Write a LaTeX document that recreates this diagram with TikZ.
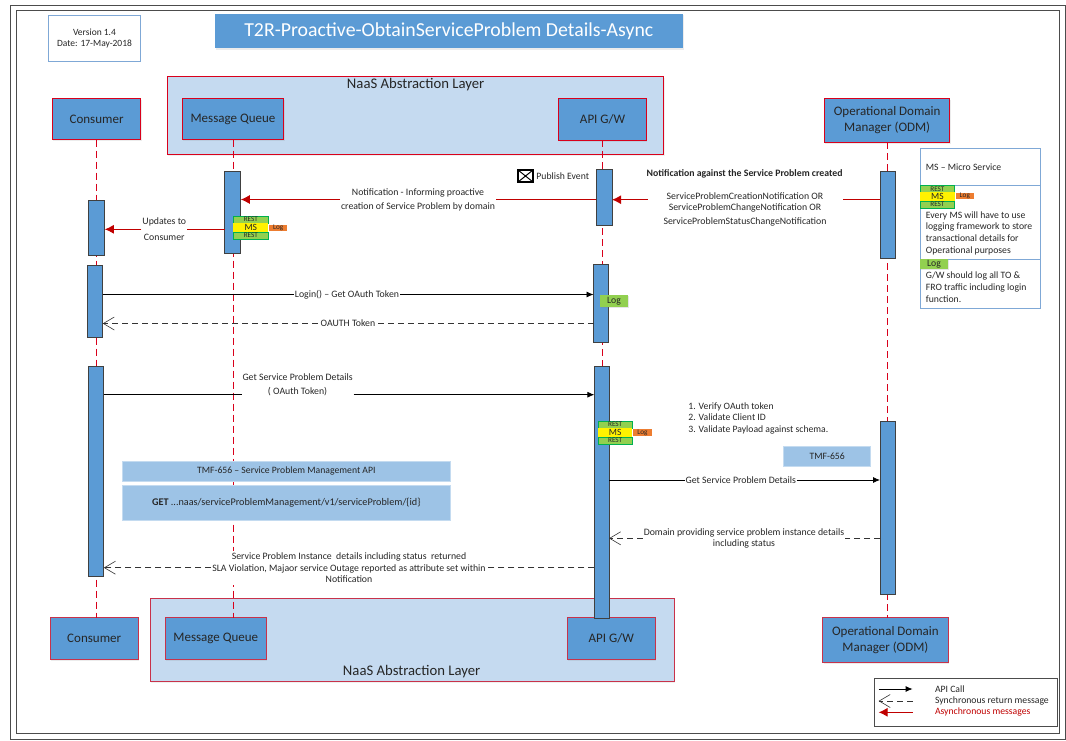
\documentclass[tikz,border=0pt]{standalone}
\usepackage{fontspec}
\setmainfont{Carlito}
\usepackage{tikz}
\usetikzlibrary{arrows.meta,shadows}
\definecolor{boxblue}{HTML}{5B9BD5}
\definecolor{layerblue}{HTML}{C5DAF0}
\definecolor{tmfblue}{HTML}{9DC3E6}
\definecolor{edgeblue}{HTML}{7FA8D6}
\definecolor{linered}{HTML}{D9001B}
\definecolor{softred}{HTML}{C8324A}
\definecolor{tipred}{HTML}{C00000}
\definecolor{restgreen}{HTML}{92D050}
\definecolor{edgegreen}{HTML}{00B050}
\definecolor{logorange}{HTML}{ED7D31}
\definecolor{textgrey}{HTML}{262626}
\tikzset{
    every node/.style = {
        inner sep=0pt,
        outer sep=0pt,
        text=textgrey
    },
    frameline/.style = {
        draw=black!70,
        line width=.9pt,
        minimum width=#1
    },
    layer/.style = {
        draw=linered,
        fill=layerblue,
        line width=.9pt,
        drop shadow={opacity=.12,shadow xshift=1pt,shadow yshift=-1.5pt}
    },
    layerlabel/.style = {
        font=\fontsize{14.7}{17}\selectfont
    },
    party/.style = {
        draw=linered,
        fill=boxblue,
        line width=1pt,
        align=center,
        text=black!85,
        font=\fontsize{13}{16}\selectfont,
        drop shadow={opacity=.15,shadow xshift=1pt,shadow yshift=-1.5pt}
    },
    partylow/.style = {
        party,
        draw=softred
    },
    bar/.style = {
        draw=black!75,
        fill=boxblue,
        line width=1pt
    },
    tmf/.style = {
        draw=tmfblue!60,
        fill=tmfblue,
        line width=.5pt,
        font=\fontsize{9.7}{11}\selectfont
    },
    rest/.style = {
        draw=edgegreen,
        fill=restgreen,
        line width=.7pt,
        minimum height=7pt,
        font=\fontsize{7.2}{7}\selectfont
    },
    msbox/.style = {
        fill=yellow,
        font=\fontsize{9.5}{9}\selectfont
    },
    logbox/.style = {
        fill=logorange,
        font=\fontsize{7.2}{7}\selectfont
    },
    greenlog/.style = {
        fill=restgreen,
        font=\fontsize{9.7}{10}\selectfont,
        drop shadow={opacity=.2,shadow xshift=1pt,shadow yshift=-1pt}
    },
    notebox/.style = {
        draw=edgeblue,
        fill=white,
        line width=.9pt,
        minimum width=120.8pt
    },
    msg/.style = {
        fill=white,
        align=center,
        inner xsep=1pt,
        font=\fontsize{9.8}{11.5}\selectfont
    },
    plain/.style = {
        align=left,
        font=\fontsize{9.7}{11.7}\selectfont
    },
    life/.style = {
        draw=linered,
        line width=.8pt,
        dash pattern=on 7pt off 4pt
    },
    async/.style = {
        draw=tipred,
        line width=1pt,
        -{Latex[length=9pt,width=9pt]}
    },
    call/.style = {
        draw=black,
        line width=.8pt,
        -{Latex[length=7pt,width=6pt]}
    },
    back/.style = {
        draw=black!80,
        line width=.8pt,
        dash pattern=on 6pt off 4pt,
        -{Straight Barb[length=11pt,width=13pt,line width=.6pt]}
    }
}

\begin{document}
\begin{tikzpicture}[x=1pt,y=-1pt]
    \useasboundingbox (0,0) rectangle (1066,740);

    \node[frameline=1055pt, minimum height=733.5pt] (outerframe) at (537.5,372.5) {};
    \node[frameline=1043.5pt, minimum height=723pt] (innerframe) at (537.7,371.5) {};

    \node[fill=boxblue, text=white, minimum width=468.4pt, minimum height=34.5pt, font=\fontsize{19.8}{24}\selectfont,
        drop shadow={opacity=.15,shadow xshift=1pt,shadow yshift=-1.5pt}] (title) at (448.8,30.75) {T2R-Proactive-ObtainServiceProblem Details-Async};
    \node[draw=edgeblue, fill=white, line width=1pt, minimum width=92.5pt, minimum height=46pt, align=center, font=\fontsize{9.5}{11}\selectfont] (version) at (94.5,38) {Version 1.4\\Date: 17-May-2018};

    \node[layer, minimum width=496.3pt, minimum height=78pt] (layertop) at (415.5,115) {};
    \node[layerlabel] (layertoplabel) at (415.6,85) {NaaS Abstraction Layer};
    \node[layer, draw=softred, minimum width=524pt, minimum height=83pt] (layerlow) at (412,640.2) {};
    \node[layerlabel] (layerlowlabel) at (411.6,671.5) {NaaS Abstraction Layer};

    \node[party, minimum width=88.4pt, minimum height=41pt] (consumertop) at (96.6,119) {Consumer};
    \node[party, minimum width=101.4pt, minimum height=41pt] (queuetop) at (233,119) {Message Queue};
    \node[party, minimum width=87.4pt, minimum height=42pt] (apitop) at (602.6,119) {API G/W};
    \node[party, minimum width=125.5pt, minimum height=44pt] (odmtop) at (887.2,120) {Operational Domain\\Manager (ODM)};

    \node[partylow, minimum width=87.7pt, minimum height=41.6pt] (consumerlow) at (94.2,638.5) {Consumer};
    \node[partylow, minimum width=101pt, minimum height=41.6pt] (queuelow) at (215.8,638.5) {Message Queue};
    \node[partylow, minimum width=87.6pt, minimum height=41.6pt] (apilow) at (611.2,638.5) {API G/W};
    \node[partylow, minimum width=125.8pt, minimum height=44.6pt] (odmlow) at (885.4,640) {Operational Domain\\Manager (ODM)};

    \path[life] (consumertop.south) -- (consumertop.south |- consumerlow.north);
    \path[life] (queuetop.south) -- (queuetop.south |- queuelow.north);
    \path[life] (apitop.south) -- (apitop.south |- apilow.north);
    \path[life] (odmtop.south) -- (odmtop.south |- odmlow.north);

    \node[bar, minimum width=16pt, minimum height=55pt] (conbarA) at (96.8,228) {};
    \node[bar, minimum width=15.7pt, minimum height=72pt] (conbarB) at (94.9,301.5) {};
    \node[bar, minimum width=15.7pt, minimum height=210.7pt] (conbarC) at (96,471.4) {};
    \node[bar, minimum width=16pt, minimum height=82pt] (queuebar) at (232.8,212) {};
    \node[bar, minimum width=15.7pt, minimum height=55.8pt] (apibarA) at (604.2,197.6) {};
    \node[bar, minimum width=14.7pt, minimum height=77.6pt] (apibarB) at (600.9,303.5) {};
    \node[bar, minimum width=14.7pt, minimum height=252pt] (apibarC) at (601.7,492) {};
    \node[bar, minimum width=15pt, minimum height=87pt] (odmbarA) at (887.5,214.5) {};
    \node[bar, minimum width=15pt, minimum height=172.3pt] (odmbarB) at (887.5,507.9) {};

    \node[tmf, minimum width=328.7pt, minimum height=20.3pt] (tmftitle) at (286.3,471.2) {TMF-656 -- Service Problem Management API};
    \node[tmf, minimum width=328.7pt, minimum height=34.7pt, font=\fontsize{10.2}{11}\selectfont] (tmfget) at (286.3,502.6) {\textbf{GET} ...naas/serviceProblemManagement/v1/serviceProblem/\{id\}};
    \node[tmf, minimum width=87pt, minimum height=20.3pt] (tmfshort) at (827.2,456.2) {TMF-656};

    \node[rest, minimum width=35.1pt] (queuerestA) at (250.85,219.35) {REST};
    \node[msbox, minimum width=35.1pt, minimum height=9pt] (queuems) at (250.85,227.5) {MS};
    \node[rest, minimum width=35.1pt] (queuerestB) at (250.85,235.5) {REST};
    \node[logbox, minimum width=18.4pt, minimum height=6.6pt] (queuelog) at (278.2,228) {Log};

    \node[rest, minimum width=33.7pt] (apirestA) at (615.15,424.4) {REST};
    \node[msbox, minimum width=33.7pt, minimum height=9pt] (apims) at (615.15,432.75) {MS};
    \node[rest, minimum width=33.7pt] (apirestB) at (615.15,440.5) {REST};
    \node[logbox, minimum width=19pt, minimum height=7pt] (apilog) at (642.5,432.5) {Log};

    \node[greenlog, minimum width=28pt, minimum height=11.7pt] (gwlog) at (614,301.15) {Log};

    \node[notebox, minimum height=36.8pt] (msinfo) at (980.4,167.1) {};
    \node[notebox, minimum height=73.5pt] (msnote) at (980.4,222.25) {};
    \node[notebox, minimum height=49pt] (lognote) at (980.4,283.5) {};
    \node[plain, anchor=west] (msinfotext) at (925.9,166.7) {MS -- Micro Service};
    \node[rest, minimum width=34.8pt] (noterestA) at (937.4,189) {REST};
    \node[msbox, minimum width=34.8pt, minimum height=8.5pt] (notems) at (937.4,196.7) {MS};
    \node[rest, minimum width=34.8pt] (noterestB) at (937.4,204.4) {REST};
    \node[logbox, minimum width=18.5pt, minimum height=6pt] (notelog) at (964.8,196) {Log};
    \node[plain, anchor=west] (msnotetext) at (925.9,233.2) {Every MS will have to use\\logging framework to store\\transactional details for\\Operational purposes};
    \node[greenlog, minimum width=28pt, minimum height=10pt] (notegreen) at (934,264) {Log};
    \node[plain, anchor=west] (lognotetext) at (925.9,287) {G/W should log all TO \&\\FRO traffic including login\\function.};

    \node[draw=black, fill=white, line width=1.5pt, minimum width=15pt, minimum height=12pt] (envelope) at (525.5,176) {};
    \draw[line width=1pt] (envelope.north west) -- (envelope.center) -- (envelope.north east);
    \draw[line width=1pt] (envelope.south west) -- (envelope.center) -- (envelope.south east);
    \node[plain, anchor=west] (publish) at (536.4,176) {Publish Event};

    \node[msg, font=\fontsize{9.8}{11}\bfseries\selectfont] (notifyhead) at (744.6,174) {Notification against the Service Problem created};
    \node[msg, minimum width=195pt] (odmlabel) at (745,209.8) {ServiceProblemCreationNotification OR\\[-.5pt]ServiceProblemChangeNotification OR\\[2.5pt]ServiceProblemStatusChangeNotification};
    \coordinate (odmmsg) at (745,199.7);
    \path[async] (odmbarA.west |- odmmsg) -- (odmlabel.east |- odmmsg) (odmlabel.west |- odmmsg) -- (apibarA.east |- odmmsg);

    \node[msg, inner ysep=1pt] (notifylabel) at (418,199.5) {Notification - Informing proactive\\[2.5pt]creation of Service Problem by domain};
    \path[async] (apibarA.west |- notifylabel) -- (notifylabel) -- (queuebar.east |- notifylabel);

    \node[msg] (updateslabel) at (164.3,229.3) {Updates to\\[4pt]Consumer};
    \path[async] (queuebar.west |- updateslabel) -- (updateslabel) -- (conbarA.east |- updateslabel);

    \node[msg] (loginlabel) at (347,294.5) {Login() -- Get OAuth Token};
    \path[call] (conbarB.east |- loginlabel) -- (loginlabel) -- (apibarB.west |- loginlabel);

    \node[msg, inner xsep=3pt] (tokenlabel) at (348,323.5) {OAUTH Token};
    \path[back] (apibarB.west |- tokenlabel) -- (tokenlabel) -- (conbarB.east |- tokenlabel);

    \node[msg] (detailslabel) at (297.6,385) {Get Service Problem Details\\[2.5pt]( OAuth Token)};
    \coordinate (detailsmsg) at (297.6,394.7);
    \path[call] (conbarC.east |- detailsmsg) -- (detailslabel.west |- detailsmsg) (detailslabel.east |- detailsmsg) -- (apibarC.west |- detailsmsg);

    \node[msg, minimum height=34pt] (returnlabel) at (349,567.7) {Service Problem Instance\ \ details including status\ \ returned\\SLA Violation, Majaor service Outage reported as attribute set within\\Notification};
    \path[back] (apibarC.west |- returnlabel) -- (returnlabel) -- (conbarC.east |- returnlabel);

    \node[plain, anchor=west] (steps) at (688.4,418.2) {1. Verify OAuth token\\2. Validate Client ID\\3. Validate Payload against schema.};

    \node[msg] (odmcalllabel) at (740.8,480) {Get Service Problem Details};
    \path[call] (apibarC.east |- odmcalllabel) -- (odmcalllabel) -- (odmbarB.west |- odmcalllabel);

    \node[msg] (domainlabel) at (744,538.3) {Domain providing service problem instance details\\including status};
    \path[back] (odmbarB.west |- domainlabel) -- (domainlabel) -- (apibarC.east |- domainlabel);

    \node[draw=black!70, fill=white, line width=1pt, minimum width=183.5pt, minimum height=48.7pt] (keybox) at (965.8,702.6) {};
    \node[plain, anchor=west] (keycall) at (935,689) {API Call};
    \node[plain, anchor=west] (keyback) at (935,701) {Synchronous return message};
    \node[plain, anchor=west, text=tipred] (keyasync) at (935,712.3) {Asynchronous messages};
    \coordinate (keyleft) at (878.6,700);
    \coordinate (keyright) at (912.6,700);
    \path[call] (keyleft |- keycall) -- (keyright |- keycall);
    \path[back] (keyright |- keyback) -- (keyleft |- keyback);
    \path[async] (keyright |- keyasync) -- (keyleft |- keyasync);
\end{tikzpicture}
\end{document}
